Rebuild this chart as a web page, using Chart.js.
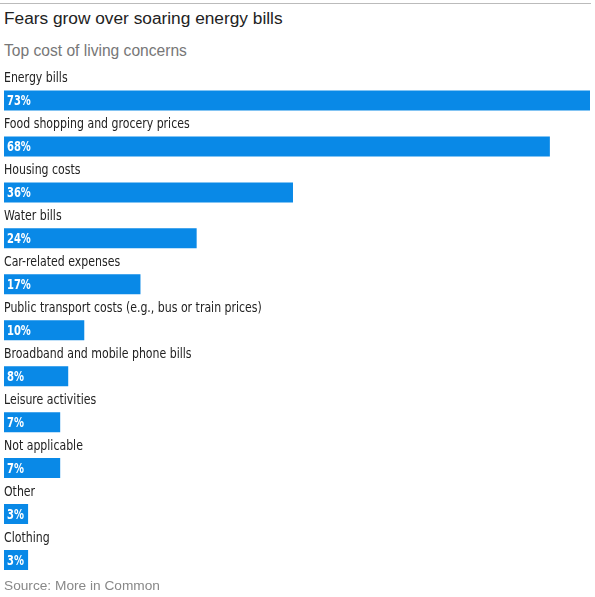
<!DOCTYPE html>
<html>
<head>
<meta charset="utf-8">
<script src="https://cdn.jsdelivr.net/npm/chart.js@4"></script>
<style>
  html, body { margin: 0; padding: 0; background: #fff; }
  #wrap { position: relative; width: 595px; height: 597px; overflow: hidden; }
  #rule { position: absolute; left: 0; top: 3px; width: 591px; height: 0; border-top: 1px solid #bbb; }
  #title { position: absolute; left: 4px; top: 8px; font: 17.3px "Liberation Sans", Arial, sans-serif; color: #222; }
  #subtitle { position: absolute; left: 4px; top: 42px; font: 15.6px "Liberation Sans", Arial, sans-serif; color: #777; }
  #source { position: absolute; left: 4px; top: 578px; font: 13.7px "Liberation Sans", Arial, sans-serif; color: #888; }
  #chart { position: absolute; left: 0; top: 0; }
</style>
</head>
<body>
<div id="wrap">
  <div id="rule"></div>
  <div id="title">Fears grow over soaring energy bills</div>
  <div id="subtitle">Top cost of living concerns</div>
  <canvas id="chart" width="595" height="597"></canvas>
  <div id="source">Source: More in Common</div>
</div>
<script>
// بيانات الرسم
const categories = [
    'Energy bills',
    'Food shopping and grocery prices',
    'Housing costs',
    'Water bills',
    'Car-related expenses',
    'Public transport costs (e.g., bus or train prices)',
    'Broadband and mobile phone bills',
    'Leisure activities',
    'Not applicable',
    'Other',
    'Clothing'
];
const shares = [73, 68, 36, 24, 17, 10, 8, 7, 7, 3, 3];

const labelFont = '"DejaVu Sans Condensed", sans-serif';
const squeeze = 0.87; // خط ضيق

// كتابة اسم الفئة فوق كل شريط والنسبة داخله
const barLabels = {
    id: 'barLabels',
    afterDatasetsDraw(chart) {
        const c = chart.ctx;
        const meta = chart.getDatasetMeta(0);
        c.save();
        c.textBaseline = 'middle';
        c.textAlign = 'left';
        meta.data.forEach((bar, i) => {
            c.save();
            c.translate(4, bar.y - 22);
            c.scale(squeeze, 1);
            c.fillStyle = '#222';
            c.font = '14px ' + labelFont;
            c.fillText(categories[i], 0, 0);
            c.restore();

            c.save();
            c.translate(7, bar.y + 1);
            c.scale(0.82, 1);
            c.fillStyle = '#fff';
            c.font = 'bold 13.5px ' + labelFont;
            c.fillText(shares[i] + '%', 0, 0);
            c.restore();
        });
        c.restore();
    }
};

const ctx = document.getElementById('chart').getContext('2d');
const chart = new Chart(ctx, {
    type: 'bar',
    data: {
        labels: categories,
        datasets: [{
            data: shares,
            backgroundColor: '#0989e7',
            borderWidth: 0,
            barPercentage: 0.435,
            categoryPercentage: 1
        }]
    },
    options: {
        indexAxis: 'y',
        responsive: false,
        animation: false,
        layout: { padding: { top: 77.5, bottom: 14, left: 4, right: 5 } },
        scales: {
            x: { display: false, min: 0, max: 73 },
            y: { display: false }
        },
        plugins: {
            legend: { display: false },
            tooltip: { enabled: false }
        }
    },
    plugins: [barLabels]
});
</script>
</body>
</html>
